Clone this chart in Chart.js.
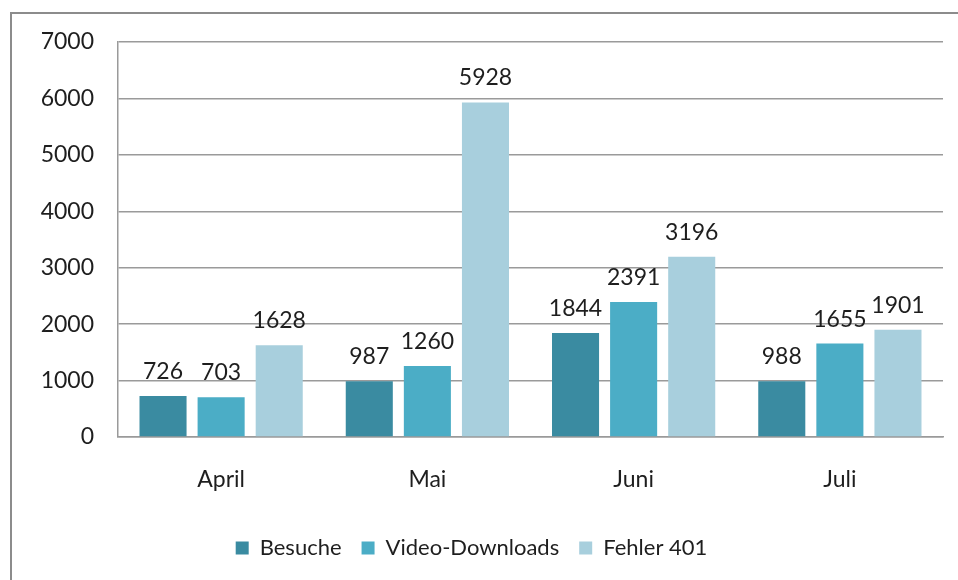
<!DOCTYPE html>
<html>
<head>
<meta charset="utf-8">
<script src="https://cdn.jsdelivr.net/npm/chart.js@4.4.1/dist/chart.umd.min.js"></script>
<style>
html,body{margin:0;padding:0;background:#fff;}
#wrap{position:relative;width:958px;height:580px;}
</style>
</head>
<body>
<div id="wrap"><canvas id="c" width="958" height="580"></canvas></div>
<script>
const categories = ["April", "Mai", "Juni", "Juli"];
const besuche = [726, 987, 1844, 988];
const videoDownloads = [703, 1260, 2391, 1655];
const fehler401 = [1628, 5928, 3196, 1901];
const seriesNames = ["Besuche", "Video-Downloads", "Fehler 401"];
const yTicks = [0, 1000, 2000, 3000, 4000, 5000, 6000, 7000];

const FONT = "Lato, 'Open Sans', sans-serif";

const frame = {
  id: 'frame',
  beforeDraw(chart) {
    const ctx = chart.ctx;
    ctx.save();
    ctx.fillStyle = '#fff';
    ctx.fillRect(0, 0, chart.width, chart.height);
    ctx.strokeStyle = '#8c8c8c';
    ctx.lineWidth = 2;
    ctx.strokeRect(11, 13, 1200, 1200);
    ctx.restore();
  }
};

const valueLabels = {
  id: 'valueLabels',
  afterDatasetsDraw(chart) {
    const ctx = chart.ctx;
    ctx.save();
    ctx.font = "23px " + FONT;
    ctx.fillStyle = '#1e1e1e';
    ctx.textAlign = 'center';
    ctx.textBaseline = 'alphabetic';
    chart.data.datasets.forEach((ds, i) => {
      const meta = chart.getDatasetMeta(i);
      meta.data.forEach((bar, j) => {
        ctx.fillText(String(ds.data[j]), bar.x, bar.y - 17);
      });
    });
    ctx.restore();
  }
};

new Chart(document.getElementById('c'), {
  type: 'bar',
  data: {
    labels: categories,
    datasets: [
      { label: seriesNames[0], data: besuche, backgroundColor: '#3A8BA1' },
      { label: seriesNames[1], data: videoDownloads, backgroundColor: '#4BADC6' },
      { label: seriesNames[2], data: fehler401, backgroundColor: '#A8CFDD' }
    ]
  },
  options: {
    responsive: false,
    animation: false,
    devicePixelRatio: 1,
    layout: { padding: { left: 0, right: 15, top: 42, bottom: 11 } },
    datasets: { bar: { categoryPercentage: 0.845, barPercentage: 0.81 } },
    plugins: {
      legend: {
        position: 'bottom',
        labels: {
          font: { family: FONT, size: 22 },
          color: '#1e1e1e',
          boxWidth: 13,
          boxHeight: 13,
          padding: 20
        }
      },
      tooltip: { enabled: false }
    },
    scales: {
      x: {
        grid: { display: false, drawTicks: false },
        border: { display: true, color: '#9a9a9a', width: 1.5 },
        ticks: { font: { family: FONT, size: 23 }, color: '#1e1e1e', padding: 29 },
        afterFit(s) { s.height = 80; }
      },
      y: {
        min: 0, max: 7000,
        afterBuildTicks(s) { s.ticks = yTicks.map(v => ({ value: v })); },
        grid: { color: '#9a9a9a', lineWidth: 1.5, drawTicks: false },
        border: { display: true, color: '#9a9a9a', width: 1.5 },
        ticks: { font: { family: FONT, size: 23 }, color: '#1e1e1e', padding: 24, callback: v => String(v) },
        afterFit(s) { s.width = 118; }
      }
    }
  },
  plugins: [frame, valueLabels]
});
</script>
</body>
</html>
